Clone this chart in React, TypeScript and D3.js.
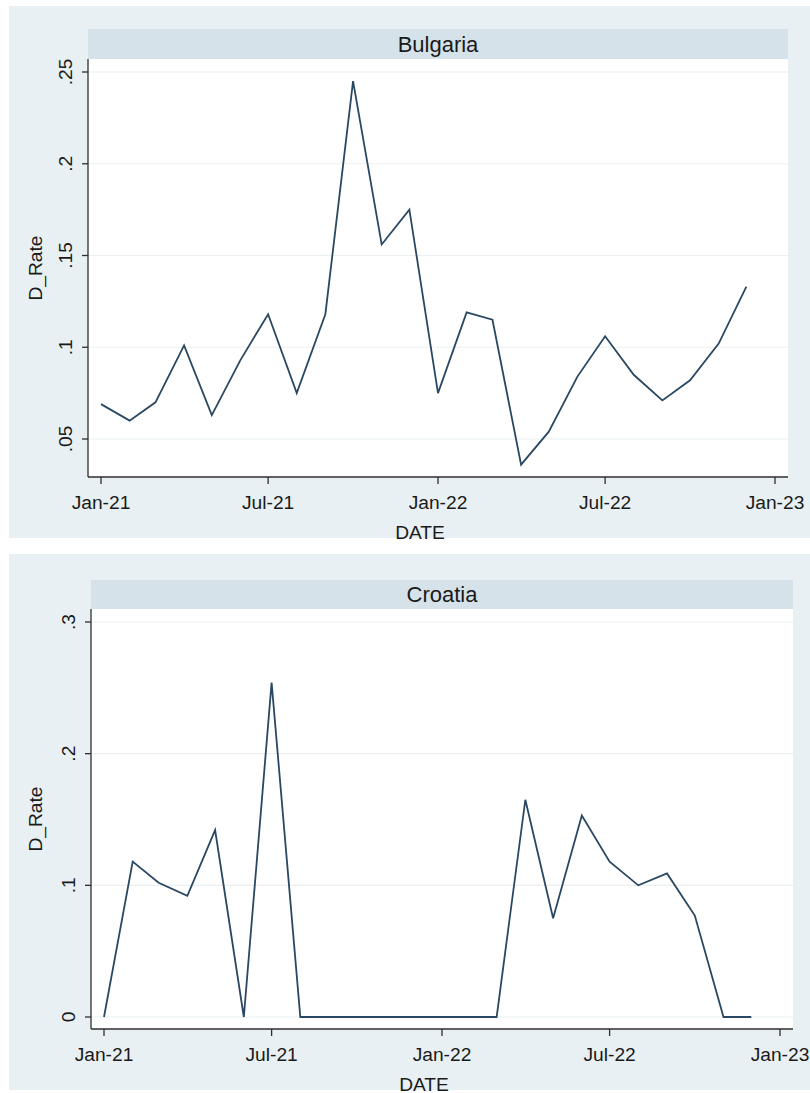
import React from "react";
import * as d3 from "d3";

// Monthly observations, Jan 2021 – Dec 2022
const months = [
  "2021-01", "2021-02", "2021-03", "2021-04", "2021-05", "2021-06",
  "2021-07", "2021-08", "2021-09", "2021-10", "2021-11", "2021-12",
  "2022-01", "2022-02", "2022-03", "2022-04", "2022-05", "2022-06",
  "2022-07", "2022-08", "2022-09", "2022-10", "2022-11", "2022-12",
];

const bulgaria = [
  0.069, 0.06, 0.07, 0.101, 0.063, 0.093, 0.118, 0.075, 0.118, 0.245, 0.156, 0.175,
  0.075, 0.119, 0.115, 0.036, 0.054, 0.084, 0.106, 0.085, 0.071, 0.082, 0.102, 0.133,
];

const croatia = [
  0, 0.118, 0.102, 0.092, 0.142, 0, 0.254, 0, 0, 0, 0, 0,
  0, 0, 0, 0.165, 0.075, 0.153, 0.118, 0.1, 0.109, 0.077, 0, 0,
];

const xTickDates = ["2021-01", "2021-07", "2022-01", "2022-07", "2023-01"];
const xTickLabels = ["Jan-21", "Jul-21", "Jan-22", "Jul-22", "Jan-23"];

const bulgariaTicks = [0.05, 0.1, 0.15, 0.2, 0.25];
const bulgariaTickLabels = [".05", ".1", ".15", ".2", ".25"];
const croatiaTicks = [0, 0.1, 0.2, 0.3];
const croatiaTickLabels = ["0", ".1", ".2", ".3"];

const parseMonth = d3.timeParse("%Y-%m");

const FONT = "'Liberation Sans', Arial, Helvetica, sans-serif";
const BG = "#e8f0f3";
const STRIP = "#d6e2e9";
const GRID = "#eaf0f2";
const AXIS = "#2e2e2e";
const LINE = "#2a4862";
const TEXT = "#1a1a1a";
const LABEL_SIZE = 19.2;

type PanelProps = {
  title: string;
  values: number[];
  ticks: number[];
  tickLabels: string[];
  bgTop: number;
  bgBottom: number;
  stripTop: number;
  plotTop: number;
  plotBottom: number;
  plotLeft: number;
  plotRight: number;
  yDomain: [number, number];
  yRange: [number, number];
  xRange: [number, number];
};

function Panel(p: PanelProps) {
  const x = d3
    .scaleTime()
    .domain([parseMonth(xTickDates[0])!, parseMonth(xTickDates[xTickDates.length - 1])!])
    .range(p.xRange);
  const y = d3.scaleLinear().domain(p.yDomain).range(p.yRange);

  const pts = months.map((m, i) => ({ d: parseMonth(m)!, v: p.values[i] }));
  const line = d3
    .line<{ d: Date; v: number }>()
    .x((q) => x(q.d))
    .y((q) => y(q.v));

  const midX = (p.plotLeft + p.plotRight) / 2;
  const midY = (p.plotTop + p.plotBottom) / 2;

  return (
    <g>
      <rect x={9} y={p.bgTop} width={801} height={p.bgBottom - p.bgTop} fill={BG} />
      <rect
        x={p.plotLeft}
        y={p.stripTop}
        width={p.plotRight - p.plotLeft}
        height={p.plotTop - p.stripTop}
        fill={STRIP}
      />
      <text
        x={midX}
        y={(p.stripTop + p.plotTop) / 2}
        textAnchor="middle"
        dominantBaseline="central"
        fontFamily={FONT}
        fontSize={22}
        fill={TEXT}
      >
        {p.title}
      </text>
      <rect
        x={p.plotLeft}
        y={p.plotTop}
        width={p.plotRight - p.plotLeft}
        height={p.plotBottom - p.plotTop}
        fill="#ffffff"
      />
      {p.ticks.map((t) => (
        <line
          key={"g" + t}
          x1={p.plotLeft}
          x2={p.plotRight}
          y1={y(t)}
          y2={y(t)}
          stroke={GRID}
          strokeWidth={1.2}
        />
      ))}
      <path d={line(pts) || ""} fill="none" stroke={LINE} strokeWidth={1.8} strokeLinejoin="miter" />
      {/* y axis */}
      <line x1={p.plotLeft} x2={p.plotLeft} y1={p.plotTop} y2={p.plotBottom} stroke={AXIS} strokeWidth={1.3} />
      {p.ticks.map((t, i) => (
        <g key={"y" + t}>
          <line x1={p.plotLeft - 6} x2={p.plotLeft} y1={y(t)} y2={y(t)} stroke={AXIS} strokeWidth={1.3} />
          <text
            transform={`translate(${p.plotLeft - 23},${y(t)}) rotate(-90)`}
            textAnchor="middle"
            dominantBaseline="central"
            fontFamily={FONT}
            fontSize={LABEL_SIZE}
            fill={TEXT}
          >
            {p.tickLabels[i]}
          </text>
        </g>
      ))}
      <text
        transform={`translate(35,${midY}) rotate(-90)`}
        textAnchor="middle"
        dominantBaseline="central"
        fontFamily={FONT}
        fontSize={LABEL_SIZE}
        fill={TEXT}
      >
        D_Rate
      </text>
      {/* x axis */}
      <line x1={p.plotLeft} x2={p.plotRight} y1={p.plotBottom} y2={p.plotBottom} stroke={AXIS} strokeWidth={1.3} />
      {xTickDates.map((s, i) => {
        const xx = x(parseMonth(s)!);
        return (
          <g key={"x" + s}>
            <line x1={xx} x2={xx} y1={p.plotBottom} y2={p.plotBottom + 7} stroke={AXIS} strokeWidth={1.3} />
            <text
              x={xx}
              y={p.plotBottom + 25}
              textAnchor="middle"
              dominantBaseline="central"
              fontFamily={FONT}
              fontSize={LABEL_SIZE}
              fill={TEXT}
            >
              {xTickLabels[i]}
            </text>
          </g>
        );
      })}
      <text
        x={midX - 18}
        y={p.plotBottom + 55}
        textAnchor="middle"
        dominantBaseline="central"
        fontFamily={FONT}
        fontSize={LABEL_SIZE}
        fill={TEXT}
      >
        DATE
      </text>
    </g>
  );
}

export default function App() {
  return (
    <svg
      width={810}
      height={1093}
      style={{ position: "absolute", left: 0, top: 0, background: "#ffffff" }}
    >
      <Panel
        title="Bulgaria"
        values={bulgaria}
        ticks={bulgariaTicks}
        tickLabels={bulgariaTickLabels}
        bgTop={6}
        bgBottom={538}
        stripTop={29}
        plotTop={59}
        plotBottom={477}
        plotLeft={88}
        plotRight={788}
        yDomain={[0.05, 0.25]}
        yRange={[439, 72]}
        xRange={[101, 775]}
      />
      <Panel
        title="Croatia"
        values={croatia}
        ticks={croatiaTicks}
        tickLabels={croatiaTickLabels}
        bgTop={554}
        bgBottom={1090}
        stripTop={580}
        plotTop={609}
        plotBottom={1029}
        plotLeft={91}
        plotRight={793}
        yDomain={[0, 0.3]}
        yRange={[1017, 622]}
        xRange={[104, 780]}
      />
    </svg>
  );
}
